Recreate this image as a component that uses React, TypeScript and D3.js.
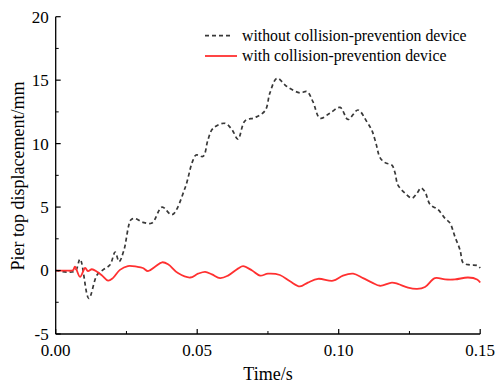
import React, { useEffect, useRef } from "react";
import * as d3 from "d3";

const timeWithout = [0, 0.0068, 0.0086, 0.0117, 0.0146, 0.0167, 0.0192, 0.021, 0.0224, 0.0241, 0.0266, 0.028, 0.0308, 0.034, 0.0376, 0.0411, 0.0457, 0.0482, 0.0496, 0.0521, 0.0538, 0.0556, 0.0598, 0.0623, 0.0644, 0.0669, 0.0704, 0.074, 0.0757, 0.0782, 0.0817, 0.0863, 0.0888, 0.0909, 0.0934, 0.0969, 0.1005, 0.1033, 0.1068, 0.11, 0.1118, 0.1132, 0.1146, 0.1164, 0.1188, 0.1199, 0.1209, 0.1234, 0.1259, 0.1277, 0.1291, 0.1305, 0.1323, 0.1351, 0.1376, 0.1393, 0.1411, 0.1429, 0.144, 0.1464, 0.1489, 0.15];
const dispWithout = [0, -0.05, 0.9, -2.2, -0.35, 0.05, 0.45, 1.45, 0.7, 1.6, 4.0, 4.1, 3.8, 3.75, 5.0, 4.4, 6.5, 8.5, 9.1, 9.0, 10.3, 11.2, 11.6, 11.1, 10.35, 11.8, 12.05, 12.6, 14.0, 15.15, 14.5, 14.0, 14.1, 13.3, 12.0, 12.4, 12.85, 11.9, 12.65, 11.7, 11.0, 10.0, 8.9, 8.5, 8.3, 7.7, 6.75, 6.1, 5.7, 6.1, 6.5, 6.2, 5.2, 4.8, 4.1, 3.75, 2.65, 1.6, 0.6, 0.45, 0.4, 0.2];

const timeWith = [0, 0.0033, 0.0061, 0.0068, 0.0086, 0.0104, 0.0114, 0.0128, 0.0146, 0.0164, 0.0185, 0.0202, 0.0227, 0.0255, 0.0287, 0.0308, 0.0326, 0.0351, 0.0376, 0.0397, 0.0432, 0.0475, 0.0503, 0.0528, 0.0552, 0.0581, 0.0609, 0.0644, 0.0662, 0.0694, 0.0722, 0.075, 0.0792, 0.0828, 0.0863, 0.0891, 0.0927, 0.098, 0.1015, 0.1051, 0.1086, 0.1118, 0.1146, 0.1188, 0.1209, 0.1245, 0.1277, 0.1305, 0.134, 0.1376, 0.1411, 0.1457, 0.1489, 0.15];
const dispWith = [0, 0, 0.02, 0.3, -0.5, 0.2, -0.05, 0.1, -0.1, -0.4, -0.8, -0.6, 0.05, 0.35, 0.3, 0.2, -0.05, 0.3, 0.65, 0.5, -0.2, -0.55, -0.25, -0.1, -0.3, -0.6, -0.4, 0.15, 0.35, 0.0, -0.4, -0.25, -0.35, -0.85, -1.25, -0.95, -0.65, -0.8, -0.4, -0.25, -0.6, -0.95, -1.2, -0.95, -1.05, -1.35, -1.45, -1.3, -0.6, -0.7, -0.7, -0.55, -0.7, -0.95];

const xTicks = [0, 0.05, 0.1, 0.15];
const xTickLabels = ["0.00", "0.05", "0.10", "0.15"];
const yTicks = [-5, 0, 5, 10, 15, 20];
const yTickLabels = ["-5", "0", "5", "10", "15", "20"];
const legendLabels = ["without collision-prevention device", "with collision-prevention device"];
const xTitle = "Time/s";
const yTitle = "Pier top displacement/mm";

export default function App() {
  const ref = useRef<SVGSVGElement>(null);
  useEffect(() => {
    document.body.style.margin = "0";
    const svg = d3.select(ref.current);
    svg.selectAll("*").remove();
    const font = "'Liberation Serif', 'Times New Roman', serif";
    const x = d3.scaleLinear().domain([0, 0.15]).range([55.7, 480.2]);
    const y = d3.scaleLinear().domain([-5, 20]).range([334, 16.7]);

    const line = d3.line<[number, number]>().x(d => x(d[0])).y(d => y(d[1])).curve(d3.curveCatmullRom.alpha(0.5));
    const dW: [number, number][] = timeWithout.map((t, i) => [t, dispWithout[i]]);
    const dR: [number, number][] = timeWith.map((t, i) => [t, dispWith[i]]);

    svg.append("path").attr("d", line(dW)).attr("fill", "none").attr("stroke", "#383838").attr("stroke-width", 1.7).attr("stroke-dasharray", "4,3");
    svg.append("path").attr("d", line(dR)).attr("fill", "none").attr("stroke", "#ff3030").attr("stroke-width", 1.8);

    // axes
    const x0 = x(0), y0 = y(-5);
    svg.append("line").attr("x1", x0).attr("x2", x0).attr("y1", y(20)).attr("y2", y0).attr("stroke", "#000").attr("stroke-width", 1.3);
    svg.append("line").attr("x1", x0).attr("x2", x(0.15)).attr("y1", y0).attr("y2", y0).attr("stroke", "#000").attr("stroke-width", 1.3);

    yTicks.forEach((v, i) => {
      svg.append("line").attr("x1", x0).attr("x2", x0 + 5).attr("y1", y(v)).attr("y2", y(v)).attr("stroke", "#000").attr("stroke-width", 1.2);
      if (i < yTicks.length - 1) {
        const m = v + 2.5;
        svg.append("line").attr("x1", x0).attr("x2", x0 + 3).attr("y1", y(m)).attr("y2", y(m)).attr("stroke", "#000").attr("stroke-width", 1);
      }
      svg.append("text").attr("x", x0 - 7).attr("y", y(v)).attr("dy", "0.35em").attr("text-anchor", "end")
        .attr("font-family", font).attr("font-size", 17).text(yTickLabels[i]);
    });
    xTicks.forEach((v, i) => {
      svg.append("line").attr("x1", x(v)).attr("x2", x(v)).attr("y1", y0).attr("y2", y0 - 5).attr("stroke", "#000").attr("stroke-width", 1.2);
      if (i < xTicks.length - 1) {
        const m = v + 0.025;
        svg.append("line").attr("x1", x(m)).attr("x2", x(m)).attr("y1", y0).attr("y2", y0 - 3).attr("stroke", "#000").attr("stroke-width", 1);
      }
      svg.append("text").attr("x", x(v)).attr("y", 356).attr("text-anchor", "middle")
        .attr("font-family", font).attr("font-size", 17).text(xTickLabels[i]);
    });

    svg.append("text").attr("x", 268).attr("y", 380).attr("text-anchor", "middle").attr("font-family", font).attr("font-size", 18).text(xTitle);
    svg.append("text").attr("transform", "translate(24,176) rotate(-90)").attr("text-anchor", "middle").attr("font-family", font).attr("font-size", 18).text(yTitle);

    // legend
    const ly = [35.7, 56];
    svg.append("line").attr("x1", 205).attr("x2", 233).attr("y1", ly[0]).attr("y2", ly[0]).attr("stroke", "#383838").attr("stroke-width", 1.7).attr("stroke-dasharray", "4,3");
    svg.append("line").attr("x1", 205).attr("x2", 237).attr("y1", ly[1]).attr("y2", ly[1]).attr("stroke", "#ff3030").attr("stroke-width", 1.8);
    legendLabels.forEach((l, i) => {
      svg.append("text").attr("x", 242).attr("y", ly[i]).attr("dy", "0.33em").attr("font-family", font).attr("font-size", 15.8).text(l);
    });
  }, []);
  return <svg ref={ref} width={495} height={383} style={{ display: "block", background: "#fff" }} />;
}
